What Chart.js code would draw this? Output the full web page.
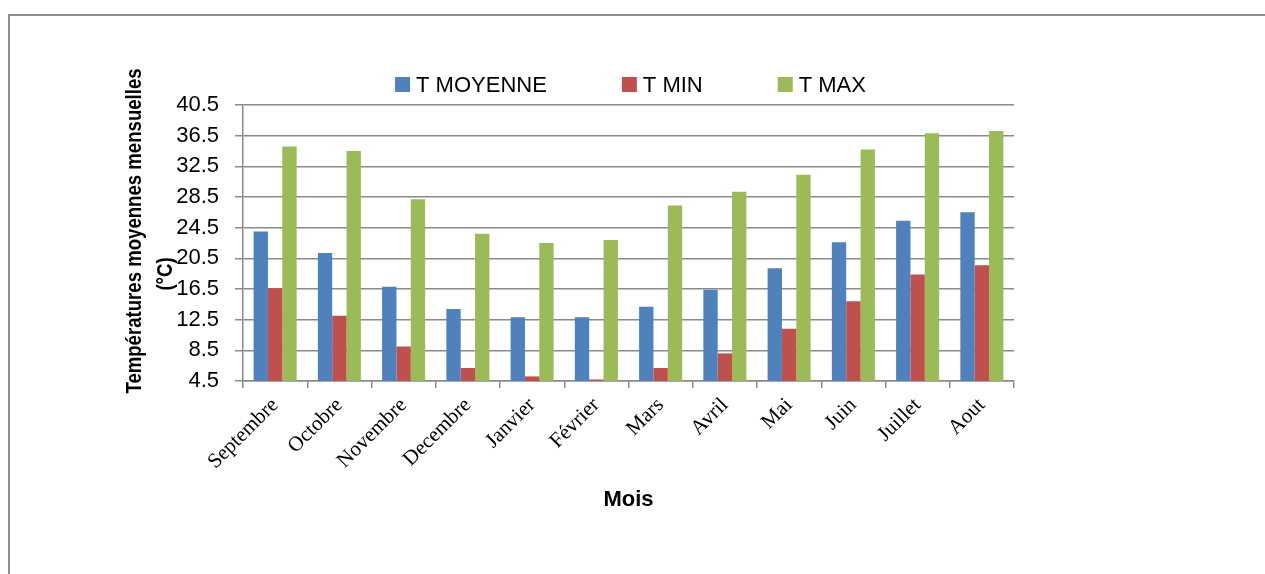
<!DOCTYPE html>
<html>
<head>
<meta charset="utf-8">
<script src="https://cdn.jsdelivr.net/npm/chart.js@4.4.0/dist/chart.umd.min.js"></script>
<style>
    html, body { margin: 0; padding: 0; background: #fff; }
    #wrap { width: 1265px; height: 574px; }
</style>
</head>
<body>
<div id="wrap"><canvas id="chart" width="1265" height="574"></canvas></div>
<script>
// Températures mensuelles
const months = ['Septembre', 'Octobre', 'Novembre', 'Decembre', 'Janvier', 'Février',
    'Mars', 'Avril', 'Mai', 'Juin', 'Juillet', 'Aout'];
const tMoyenne = [24.0, 21.2, 16.8, 13.9, 12.8, 12.8, 14.2, 16.4, 19.2, 22.6, 25.4, 26.5];
const tMin = [16.6, 13.0, 9.0, 6.2, 5.1, 4.7, 6.2, 8.1, 11.3, 14.9, 18.4, 19.6];
const tMax = [35.1, 34.5, 28.2, 23.7, 22.5, 22.9, 27.4, 29.2, 31.4, 34.7, 36.8, 37.1];
const seriesNames = ['T MOYENNE', 'T MIN', 'T MAX'];
const yTitle = ['Températures moyennes mensuelles', '(°C)'];
const xTitle = 'Mois';

const colors = ['#4f81bd', '#c0504d', '#9bbb59'];
const gridColor = '#8a8a8a';

// outer frame, legend and y title are drawn by hand
const framePlugin = {
    id: 'frame',
    beforeDraw(chart) {
        const ctx = chart.ctx;
        ctx.save();
        ctx.fillStyle = '#fff';
        ctx.fillRect(0, 0, chart.width, chart.height);
        ctx.fillStyle = '#8f8f8f';
        ctx.fillRect(8, 14, chart.width - 8, 2);
        ctx.fillRect(8, 14, 2, chart.height - 14);
        ctx.restore();
    },
    afterDraw(chart) {
        const ctx = chart.ctx;
        const area = chart.chartArea;
        ctx.save();

        // legend
        ctx.font = '22px "Liberation Sans", Arial, sans-serif';
        const box = 15, gap = 6, pad = 75;
        const widths = chart.data.datasets.map(ds => box + gap + ctx.measureText(ds.label).width);
        const total = widths.reduce((a, b) => a + b, 0) + pad * (widths.length - 1);
        let x = (area.left + area.right) / 2 + 2 - total / 2;
        chart.data.datasets.forEach((ds, i) => {
            ctx.fillStyle = ds.backgroundColor;
            ctx.fillRect(x, 77, box, box);
            ctx.fillStyle = '#000';
            ctx.textBaseline = 'alphabetic';
            ctx.textAlign = 'left';
            ctx.fillText(ds.label, x + box + gap, 92);
            x += widths[i] + pad;
        });

        // y axis title (two lines, second one sits on the ticks)
        ctx.font = 'bold 18.6px "Liberation Sans", Arial, sans-serif';
        ctx.fillStyle = '#000';
        ctx.textAlign = 'center';
        ctx.textBaseline = 'middle';
        ctx.translate(135, 231);
        ctx.rotate(-Math.PI / 2);
        ctx.scale(1, 1.15);
        ctx.fillText(yTitle[0], 0, 0);
        ctx.fillText(yTitle[1], -43, 27);
        ctx.restore();
    }
};

const ctx = document.getElementById('chart').getContext('2d');

new Chart(ctx, {
    type: 'bar',
    data: {
        labels: months,
        datasets: [
            { label: seriesNames[0], data: tMoyenne, backgroundColor: colors[0] },
            { label: seriesNames[1], data: tMin, backgroundColor: colors[1] },
            { label: seriesNames[2], data: tMax, backgroundColor: colors[2] }
        ]
    },
    options: {
        responsive: false,
        animation: false,
        layout: {
            padding: { left: 123, right: 251, top: 105, bottom: 0 }
        },
        datasets: {
            bar: {
                categoryPercentage: 0.67,
                barPercentage: 1,
                borderWidth: 0
            }
        },
        plugins: {
            legend: { display: false },
            tooltip: { enabled: false }
        },
        scales: {
            x: {
                afterFit(scale) { scale.height = 193; },
                grid: {
                    drawOnChartArea: false,
                    drawTicks: true,
                    tickLength: 7,
                    color: gridColor,
                    lineWidth: 1.5
                },
                border: { color: gridColor, width: 1.5 },
                ticks: {
                    color: '#000',
                    padding: 5,
                    minRotation: 45,
                    maxRotation: 45,
                    autoSkip: false,
                    font: { family: '"Liberation Serif", "Times New Roman", serif', size: 21 }
                },
                title: {
                    display: true,
                    text: xTitle,
                    color: '#000',
                    font: { family: '"Liberation Sans", Arial, sans-serif', size: 22, weight: 'bold' },
                    padding: { top: 4, bottom: 61 }
                }
            },
            y: {
                min: 4.5,
                max: 40.5,
                afterFit(scale) { scale.width = 120; },
                grid: {
                    color: gridColor,
                    lineWidth: 1.5,
                    tickLength: 8
                },
                border: { color: gridColor, width: 1.5 },
                ticks: {
                    stepSize: 4,
                    color: '#000',
                    padding: 16,
                    font: { family: '"Liberation Sans", Arial, sans-serif', size: 22 },
                    callback: function(value) {
                        return value.toFixed(1);
                    }
                }
            }
        }
    },
    plugins: [framePlugin]
});
</script>
</body>
</html>
